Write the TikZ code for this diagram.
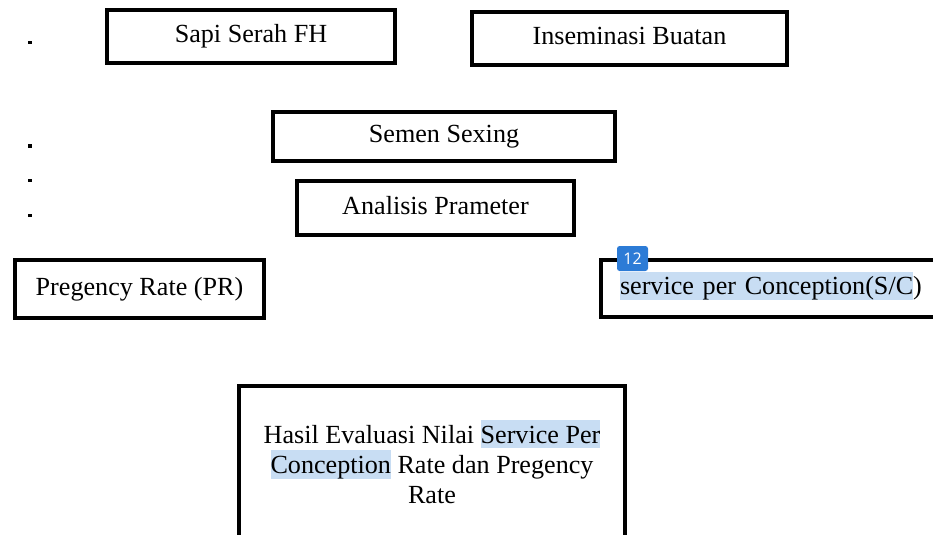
\documentclass[tikz,border=0pt]{standalone}
\usepackage{fontspec}
\setmainfont{Liberation Serif}
\newfontfamily\badgefont{Open Sans}
\usetikzlibrary{positioning}
\definecolor{selblue}{HTML}{C8DDF3}
\definecolor{badgeblue}{HTML}{2C7BD6}
\newcommand{\hl}[1]{{\setlength{\fboxsep}{0pt}\colorbox{selblue}{\rule[-3.75pt]{0pt}{21pt}#1}}}
\tikzstyle{block} = [rectangle, draw, line width=3pt, inner sep=0pt,
    text height=13.4pt, text depth=4.2pt, font=\fontsize{19.6pt}{22.5pt}\selectfont]
\tikzstyle{smalldot} = [rectangle, fill, inner sep=0pt, minimum size=2.4pt]
\tikzstyle{badge} = [rectangle, fill=badgeblue, rounded corners=2pt, inner sep=0pt,
    minimum width=23.25pt, minimum height=18.75pt, text=white,
    font=\badgefont\fontsize{12pt}{12pt}\selectfont]

\begin{document}
\begin{tikzpicture}[x=0.75pt,y=-0.75pt]
\useasboundingbox (0,0) rectangle (933,535);

% Define block positions
\node [block, minimum width=216pt, minimum height=39.75pt] (sapi) at (251,36.5) {Sapi Serah FH};
\node [block, minimum width=236.25pt, minimum height=39.75pt] (ib) at (629.5,38.5) {Inseminasi Buatan};
\node [block, minimum width=256.5pt, minimum height=36.75pt] (semen) at (444,136.5) {Semen Sexing};
\node [block, minimum width=207.75pt, minimum height=40.5pt] (analisis) at (435.5,208) {Analisis Prameter};

\node [block, minimum width=186.75pt, minimum height=43.5pt] (pr) at (139.5,289) {Pregency Rate (PR)};
\node [block, minimum width=297.75pt, minimum height=42.75pt, text width=269.25pt,
    inner xsep=14.25pt, align=left] (sc) at (799.5,288.5) {\hl{service per Conception(S/C})};
\node [badge] (num) at (632.5,258.5) {12};

\node [block, minimum width=289.5pt, minimum height=150pt] (hasil) at (432,486) {};
\node [font=\fontsize{19.6pt}{22.5pt}\selectfont, align=center, inner sep=0pt] (hasiltxt) at (432,462)
    {Hasil Evaluasi Nilai \hl{Service Per}\\\hl{Conception} Rate dan Pregency\\Rate};

% stray dots on the left
\node [smalldot] (dota) at (30,42.5) {};
\node [smalldot] (dotb) at (30,146) {};
\node [smalldot] (dotc) at (30,180.5) {};
\node [smalldot] (dotd) at (30,215.5) {};

\end{tikzpicture}
\end{document}
